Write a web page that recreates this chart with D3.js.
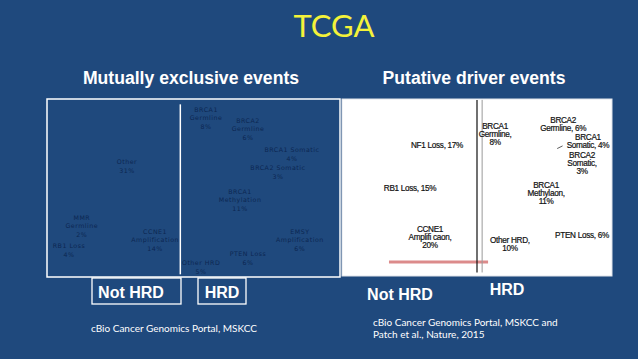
<!DOCTYPE html>
<html>
<head>
<meta charset="utf-8">
<script src="https://cdn.jsdelivr.net/npm/d3@7"></script>
<style>
  body { margin: 0; background: #1f497d; }
  svg { display: block; }
</style>
</head>
<body>
<svg id="chart"></svg>
<script>
var width = 638, height = 359;

// left: mutually exclusive events (% of cases)
var leftEvents = ["Other", "MMR Germline", "RB1 Loss", "CCNE1 Amplification", "BRCA1 Germline", "BRCA2 Germline",
  "BRCA1 Somatic", "BRCA2 Somatic", "BRCA1 Methylation", "EMSY Amplification", "PTEN Loss", "Other HRD"];
var leftPct = [31, 2, 4, 14, 8, 6, 4, 3, 11, 6, 6, 5];

// right: putative driver events (% of cases)
var rightEvents = ["NF1 Loss", "RB1 Loss", "CCNE1 Amplifi caon", "BRCA1 Germline", "BRCA2 Germline",
  "BRCA1 Somatic", "BRCA2 Somatic", "BRCA1 Methylaon", "Other HRD", "PTEN Loss"];
var rightPct = [17, 15, 20, 8, 6, 4, 3, 11, 10, 6];

// label layout: position as fraction of the panel + words per line
var leftLayout = [
  {fx: 0.273, fy: 0.376, br: [1, 1]},
  {fx: 0.119, fy: 0.713, br: [1, 1, 1]},
  {fx: 0.075, fy: 0.848, br: [2, 1]},
  {fx: 0.369, fy: 0.792, br: [1, 1, 1]},
  {fx: 0.543, fy: 0.107, br: [1, 1, 1]},
  {fx: 0.686, fy: 0.169, br: [1, 1, 1]},
  {fx: 0.836, fy: 0.309, br: [2, 1]},
  {fx: 0.788, fy: 0.410, br: [2, 1]},
  {fx: 0.659, fy: 0.567, br: [1, 1, 1]},
  {fx: 0.863, fy: 0.792, br: [1, 1, 1]},
  {fx: 0.686, fy: 0.893, br: [2, 1]},
  {fx: 0.526, fy: 0.944, br: [2, 1]}
];
var rightLayout = [
  {fx: 0.352, fy: 0.260, br: [3]},
  {fx: 0.252, fy: 0.503, br: [3]},
  {fx: 0.326, fy: 0.780, br: [1, 2, 1]},
  {fx: 0.567, fy: 0.198, br: [1, 1, 1]},
  {fx: 0.819, fy: 0.141, br: [1, 2]},
  {fx: 0.911, fy: 0.237, br: [1, 2]},
  {fx: 0.889, fy: 0.362, br: [1, 1, 1]},
  {fx: 0.756, fy: 0.531, br: [1, 1, 1]},
  {fx: 0.622, fy: 0.819, br: [2, 1]},
  {fx: 0.889, fy: 0.768, br: [3]}
];

function splitLines(words, br) {
  var out = [], k = 0;
  br.forEach(function(n) { out.push(words.slice(k, k + n).join(" ")); k += n; });
  return out;
}

var svg = d3.select("#chart").attr("width", width).attr("height", height);
svg.append("rect").attr("width", width).attr("height", height).attr("fill", "#1f497d");

svg.append("text").attr("x", 334).attr("y", 37).attr("text-anchor", "middle")
  .attr("font-family", "Lato, 'Open Sans', sans-serif").attr("font-size", 31)
  .attr("fill", "#f4f23a").text("TCGA");

svg.selectAll(".subtitle").data([["Mutually exclusive events", 191], ["Putative driver events", 474]])
  .enter().append("text")
  .attr("x", function(d) { return d[1]; }).attr("y", 84).attr("text-anchor", "middle")
  .attr("font-family", "'Liberation Sans', Arial, sans-serif").attr("font-weight", "bold")
  .attr("font-size", 17.6).attr("fill", "#fff").text(function(d) { return d[0]; });

// ---- left panel
var lx = d3.scaleLinear().domain([0, 1]).range([47, 340]);
var ly = d3.scaleLinear().domain([0, 1]).range([99, 277]);

svg.append("rect").attr("x", lx(0)).attr("y", ly(0)).attr("width", lx(1) - lx(0)).attr("height", ly(1) - ly(0))
  .attr("fill", "none").attr("stroke", "#fff").attr("stroke-width", 1.5);
svg.append("line").attr("x1", lx(0.455)).attr("x2", lx(0.455)).attr("y1", ly(0.03)).attr("y2", ly(0.985))
  .attr("stroke", "#fff").attr("stroke-width", 1.5);

var leftData = leftEvents.map(function(e, i) {
  return {lines: splitLines((e + " " + leftPct[i] + "%").split(" "), leftLayout[i].br), l: leftLayout[i]};
});
var lg = svg.append("g").attr("font-family", "'DejaVu Sans', sans-serif").attr("font-size", 6.3)
  .attr("fill", "#0c2752").attr("letter-spacing", 0.5).attr("text-anchor", "middle");
leftData.forEach(function(d) {
  var n = d.lines.length, lh = 8.6;
  var t = lg.append("text");
  d.lines.forEach(function(s, j) {
    t.append("tspan").attr("x", lx(d.l.fx))
      .attr("y", ly(d.l.fy) - (n - 1) * lh / 2 + j * lh + 2.3).text(s);
  });
});

// ---- right panel
var rx = d3.scaleLinear().domain([0, 1]).range([342, 612]);
var ry = d3.scaleLinear().domain([0, 1]).range([99, 276]);

svg.append("rect").attr("x", rx(0)).attr("y", ry(0)).attr("width", rx(1) - rx(0)).attr("height", ry(1) - ry(0))
  .attr("fill", "#fff").attr("stroke", "#dfe3ea").attr("stroke-width", 1);

svg.append("line").attr("x1", rx(0.174)).attr("x2", rx(0.541)).attr("y1", ry(0.921)).attr("y2", ry(0.921))
  .attr("stroke", "#dc8b8b").attr("stroke-width", 3);
svg.append("line").attr("x1", rx(0.5)).attr("x2", rx(0.5)).attr("y1", ry(0.005)).attr("y2", ry(0.98))
  .attr("stroke", "#111").attr("stroke-width", 1.2);
svg.append("line").attr("x1", rx(0.519)).attr("x2", rx(0.519)).attr("y1", ry(0.005)).attr("y2", ry(0.98))
  .attr("stroke", "#9a9a9a").attr("stroke-width", 1);
// leader for BRCA1 Somatic
svg.append("path").attr("d", "M" + rx(0.797) + "," + ry(0.28) + "L" + rx(0.817) + "," + ry(0.265))
  .attr("stroke", "#333").attr("stroke-width", 0.8).attr("fill", "none");

var rightData = rightEvents.map(function(e, i) {
  return {lines: splitLines((e + ", " + rightPct[i] + "%").split(" "), rightLayout[i].br), l: rightLayout[i]};
});
var rg = svg.append("g").attr("font-family", "'Liberation Sans', Arial, sans-serif").attr("font-size", 8.2)
  .attr("fill", "#111").attr("stroke", "#111").attr("stroke-width", 0.2)
  .attr("letter-spacing", -0.3).attr("text-anchor", "middle");
rightData.forEach(function(d) {
  var n = d.lines.length, lh = 8.3;
  var t = rg.append("text");
  d.lines.forEach(function(s, j) {
    t.append("tspan").attr("x", rx(d.l.fx))
      .attr("y", ry(d.l.fy) - (n - 1) * lh / 2 + j * lh + 3).text(s);
  });
});

// ---- group tags
var boxes = [{t: "Not HRD", x: 92, w: 89}, {t: "HRD", x: 198, w: 48}];
svg.selectAll(".tag").data(boxes).enter().append("rect")
  .attr("x", function(d) { return d.x; }).attr("y", 278).attr("width", function(d) { return d.w; }).attr("height", 26)
  .attr("fill", "none").attr("stroke", "#fff").attr("stroke-width", 1.3);
var tags = [["Not HRD", 131, 298], ["HRD", 222, 298], ["Not HRD", 400, 300], ["HRD", 507, 295]];
svg.selectAll(".tagt").data(tags).enter().append("text")
  .attr("x", function(d) { return d[1]; }).attr("y", function(d) { return d[2]; }).attr("text-anchor", "middle")
  .attr("font-family", "'Liberation Sans', Arial, sans-serif").attr("font-weight", "bold").attr("font-size", 16)
  .attr("fill", "#fff").text(function(d) { return d[0]; });

var src = [["cBio Cancer Genomics Portal, MSKCC", 91, 332], ["cBio Cancer Genomics Portal, MSKCC and", 373, 326],
  ["Patch et al., Nature, 2015", 373, 338]];
svg.selectAll(".src").data(src).enter().append("text")
  .attr("x", function(d) { return d[1]; }).attr("y", function(d) { return d[2]; })
  .attr("font-family", "Lato, 'Open Sans', sans-serif").attr("font-size", 10)
  .attr("fill", "#fff").text(function(d) { return d[0]; });
</script>
</body>
</html>
